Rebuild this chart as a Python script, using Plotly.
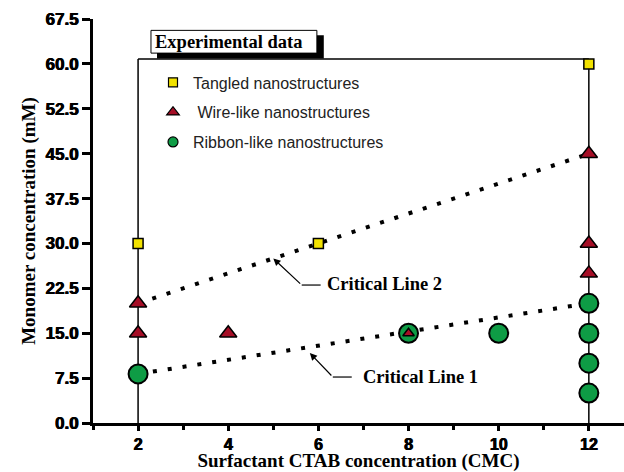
import plotly.graph_objects as go

# ---- data ----
tangled_x = [2, 6, 12]
tangled_y = [30, 30, 60]

wire_x = [2, 2, 4, 8, 12, 12, 12]
wire_y = [20, 15, 15, 15, 45, 30, 25]
wire_size = [15, 15, 15, 10, 15, 15, 15]

ribbon_x = [2, 8, 10, 12, 12, 12, 12]
ribbon_y = [8.2, 15, 15, 20, 15, 10, 5]

crit1_x = [2, 12]
crit1_y = [8.2, 20]
crit2_x = [2, 12]
crit2_y = [20, 45]

y_ticks = [0, 7.5, 15, 22.5, 30, 37.5, 45, 52.5, 60, 67.5]
y_labels = [f"<b>{v:.1f}</b>" for v in y_ticks]
x_ticks = [2, 4, 6, 8, 10, 12]
x_labels = [f"<b>{v}</b>" for v in x_ticks]

YELLOW = "#F2E200"
RED = "#A50E26"
GREEN = "#0E9C45"
SERIF = "Liberation Serif"
SANS = "Liberation Sans"
THICK = "0.6px 0px 0px black, -0.3px 0px 0px black"

fig = go.Figure()

# critical lines
for xs, ys in [(crit1_x, crit1_y), (crit2_x, crit2_y)]:
    fig.add_trace(go.Scatter(x=xs, y=ys, mode="lines", showlegend=False,
                             line=dict(color="black", width=4, dash="4px,11px"),
                             hoverinfo="skip"))

fig.add_trace(go.Scatter(x=tangled_x, y=tangled_y, mode="markers", showlegend=False,
                         marker=dict(symbol="square", size=10, color=YELLOW, opacity=1,
                                     line=dict(color="black", width=1.5))))
fig.add_trace(go.Scatter(x=ribbon_x, y=ribbon_y, mode="markers", showlegend=False,
                         marker=dict(symbol="circle", size=19, color=GREEN, opacity=1,
                                     line=dict(color="black", width=2))))
fig.add_trace(go.Scatter(x=wire_x, y=wire_y, mode="markers", showlegend=False,
                         marker=dict(symbol="triangle-up", size=wire_size, color=RED, opacity=1,
                                     line=dict(color="black", width=1.5))))

# legend entries
legend_items = [
    ("Tangled nanostructures", "square", YELLOW, 9),
    (" Wire-like nanostructures", "triangle-up", RED, 11),
    ("Ribbon-like nanostructures", "circle", GREEN, 10),
]
for i, (name, sym, col, sz) in enumerate(legend_items):
    fig.add_trace(go.Scatter(x=[None], y=[None], mode="markers", name=name,
                             legendgroup=f"g{i}",
                             marker=dict(symbol=sym, size=sz, color=col,
                                         line=dict(color="black", width=1.2))))

shapes = [
    # frame of the data box
    dict(type="line", x0=2, x1=2, y0=0, y1=60.8, line=dict(color="black", width=1.5), layer="below"),
    dict(type="line", x0=12, x1=12, y0=0, y1=60.8, line=dict(color="black", width=1.5), layer="below"),
    dict(type="line", x0=2, x1=12, y0=60.8, y1=60.8, line=dict(color="black", width=1.5), layer="below"),
    # title box shadow and box
    dict(type="rect", x0=2.42, x1=6.12, y0=60.9, y1=64.8, fillcolor="black", line=dict(width=0)),
    dict(type="rect", x0=2.286, x1=5.967, y0=61.8, y1=65.6, fillcolor="white",
         line=dict(color="black", width=1)),
    # horizontal leader segments
    dict(type="line", x0=5.63, x1=6.05, y0=23.05, y1=23.05, line=dict(color="black", width=1.2)),
    dict(type="line", x0=6.32, x1=6.74, y0=7.68, y1=7.68, line=dict(color="black", width=1.2)),
]

annotations = [
    dict(x=2.33, y=63.7, xref="x", yref="y", text="<b>Experimental data</b>", showarrow=False,
         xanchor="left", yanchor="middle", font=dict(family=SERIF, size=18.5, color="black")),
    dict(x=6.15, y=23.3, xref="x", yref="y", text="<b>Critical Line 2</b>", showarrow=False,
         xanchor="left", yanchor="middle", font=dict(family=SERIF, size=18.5, color="black")),
    dict(x=6.95, y=7.7, xref="x", yref="y", text="<b>Critical Line 1</b>", showarrow=False,
         xanchor="left", yanchor="middle", font=dict(family=SERIF, size=18.5, color="black")),
    dict(x=5.0, y=27.5, ax=5.63, ay=23.05, xref="x", yref="y", axref="x", ayref="y",
         text="", showarrow=True, arrowhead=2, arrowsize=1.2, arrowwidth=1.2, arrowcolor="black"),
    dict(x=5.81, y=11.7, ax=6.32, ay=7.68, xref="x", yref="y", axref="x", ayref="y",
         text="", showarrow=True, arrowhead=2, arrowsize=1.2, arrowwidth=1.2, arrowcolor="black"),
]

fig.update_layout(
    width=624, height=472,
    margin=dict(l=93, r=0, t=19, b=49),
    paper_bgcolor="white", plot_bgcolor="white",
    shapes=shapes, annotations=annotations,
    legend=dict(x=0.113, y=0.885, xanchor="left", yanchor="top",
                bgcolor="rgba(0,0,0,0)", font=dict(family=SANS, size=16, color="#222"),
                tracegroupgap=6),
    xaxis=dict(range=[1, 12.78], tickvals=x_ticks, ticktext=x_labels, ticks="outside",
               ticklen=5, tickwidth=3,
               tickcolor="black", showline=True, linewidth=3, linecolor="black",
               showgrid=False, zeroline=False,
               minor=dict(tick0=1, dtick=1, ticks="outside", ticklen=4, tickwidth=2.5, tickcolor="black"),
               tickfont=dict(family=SANS, size=16, color="black", weight="bold", shadow=THICK),
               title=dict(text="<b>Surfactant CTAB concentration (CMC)</b>", standoff=3,
                          font=dict(family=SERIF, size=19, color="black"))),
    yaxis=dict(range=[0, 67.5], tickvals=y_ticks, ticktext=y_labels, ticks="outside", ticklen=8,
               tickwidth=3, tickcolor="black", showline=True, linewidth=3, linecolor="black",
               showgrid=False, zeroline=False,
               tickfont=dict(family=SANS, size=17, color="black", weight="bold", shadow=THICK),
               title=dict(text="<b>Monomer concentration (mM)</b>", standoff=5,
                          font=dict(family=SERIF, size=19, color="black"))),
)

fig.write_html("out.html")
